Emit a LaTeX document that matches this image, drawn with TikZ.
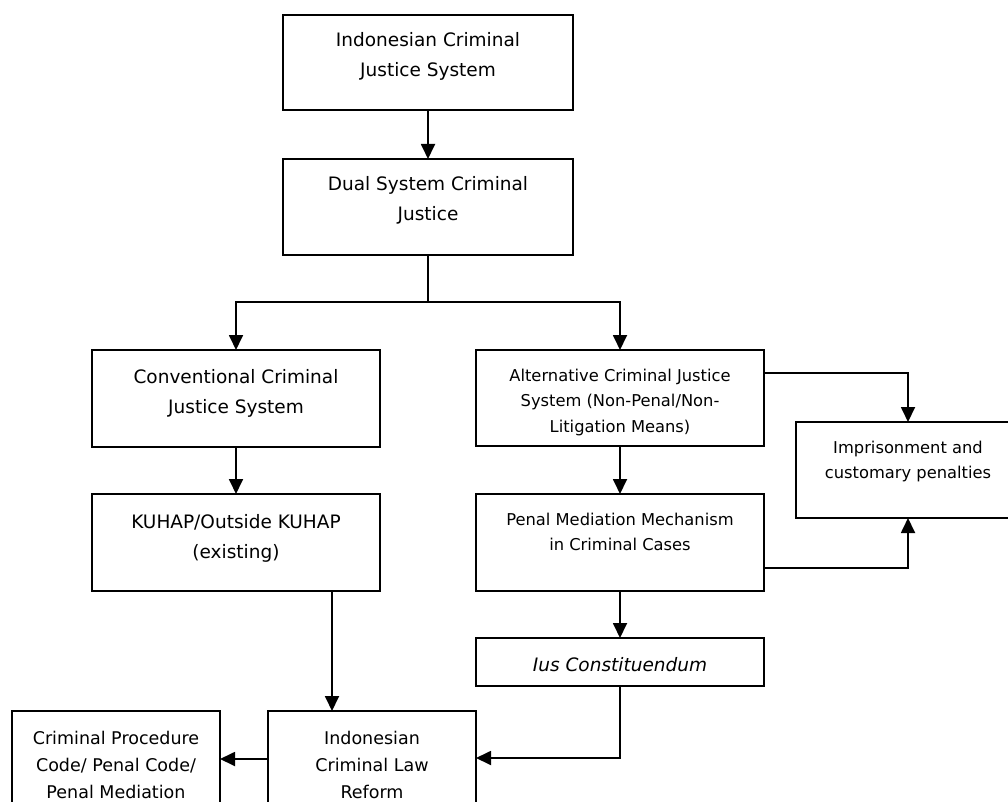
\documentclass[tikz,border=0pt]{standalone}
\usepackage{fontspec}
\setmainfont{DejaVu Sans}
\usetikzlibrary{arrows.meta,calc}
\newcommand\bxt[4]{\parbox[c][#2][t]{#1}{\centering\rule{0pt}{#3}#4}}
\newcommand\fmain{\fontsize{18.5pt}{30pt}\selectfont}
\newcommand\fsmall{\fontsize{16.3pt}{25.5pt}\selectfont}
\newcommand\fbot{\fontsize{17.5pt}{27pt}\selectfont}
\begin{document}
\begin{tikzpicture}[x=1pt,y=-1pt,
  box/.style={draw=black, line width=1.8pt, inner sep=0pt, outer sep=0pt},
  arr/.style={line width=1.8pt, -{Triangle[length=15pt,width=14pt]}},
  ln/.style={line width=1.8pt}]
\path[use as bounding box] (0,0) rectangle (1008,802);
\clip (0,0) rectangle (1008,802);
% boxes
\node[box, font=\fmain] (b1) at (428,62.5) {\bxt{290pt}{95pt}{32pt}{Indonesian Criminal\\Justice System}};
\node[box, font=\fmain] (b2) at (428,207) {\bxt{290pt}{96pt}{32pt}{Dual System Criminal\\Justice}};
\node[box, font=\fmain] (b3) at (236,398.5) {\bxt{288pt}{97pt}{33pt}{Conventional Criminal\\Justice System}};
\node[box, font=\fmain] (b4) at (236,542.5) {\bxt{288pt}{97pt}{34pt}{KUHAP/Outside KUHAP\\(existing)}};
\node[box, font=\fsmall] (b5) at (620,398) {\bxt{288pt}{96pt}{31pt}{Alternative Criminal Justice\\System (Non-Penal/Non-\\Litigation Means)}};
\node[box, font=\fsmall] (b6) at (620,542.5) {\bxt{288pt}{97pt}{31pt}{Penal Mediation Mechanism\\in Criminal Cases}};
\node[box, font=\fmain] (b7) at (620,662) {\bxt{288pt}{48pt}{33pt}{\itshape Ius Constituendum}};
\node[box, font=\fsmall] (b8) at (908,470) {\bxt{224pt}{96pt}{31pt}{Imprisonment and\\customary penalties}};
\node[box, font=\fbot] (b9) at (372,770.5) {\bxt{208pt}{119pt}{33pt}{Indonesian\\Criminal Law\\Reform}};
\node[box, font=\fbot] (b10) at (116,770.5) {\bxt{208pt}{119pt}{33pt}{Criminal Procedure\\Code/ Penal Code/\\Penal Mediation}};
% connectors
\coordinate (j) at ($(b2.south)+(0,47)$);
\draw[arr] (b1.south) -- (b2.north);
\draw[ln] (b2.south) -- (j);
\draw[arr] (j) -| (b3.north);
\draw[arr] (j) -| (b5.north);
\draw[arr] (b3.south) -- (b4.north);
\draw[arr] ([xshift=-48pt]b4.south east) -- ([xshift=-48pt]b4.south east |- b9.north);
\draw[arr] (b5.south) -- (b6.north);
\draw[arr] ([yshift=-23pt]b5.north east) -| (b8.north);
\draw[arr] ([yshift=23pt]b6.south east) -| (b8.south);
\draw[arr] (b6.south) -- (b7.north);
\draw[arr] (b7.south) |- ([yshift=-47pt]b9.north east);
\draw[arr] ([yshift=-48pt]b9.north west) -- ([yshift=-48pt]b10.north east);
\end{tikzpicture}
\end{document}
